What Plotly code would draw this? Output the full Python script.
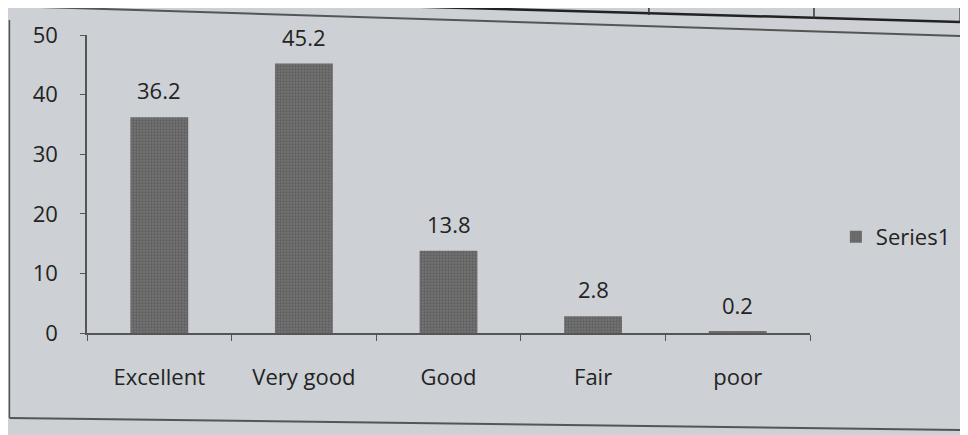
import plotly.graph_objects as go

categories = ["Excellent", "Very good", "Good", "Fair", "poor"]
values = [36.2, 45.2, 13.8, 2.8, 0.2]
value_labels = ["36.2", "45.2", "13.8", "2.8", "0.2"]
y_ticks = [0, 10, 20, 30, 40, 50]
series_name = "Series1"

OFF = 8  # browser body margin
W, H = 960, 427
L, T = 87 - OFF, 35 - OFF
pw, ph = 727, 298
R, B = W - L - pw, H - T - ph

def px(x):
    return (x - OFF - L) / pw

def py(y):
    return (T + ph - (y - OFF)) / ph

bg = "#cdd0d4"
ink = "#232323"
font = dict(family="Open Sans, Lato, sans-serif", size=22, color=ink)

fig = go.Figure()
fig.add_trace(go.Bar(
    x=categories, y=values, name=series_name,
    width=0.4,
    marker=dict(color="#666666", line=dict(width=0),
                pattern=dict(shape=".", fgcolor="#4a4a4a", bgcolor="#737373", size=3, solidity=0.45)),
    showlegend=True,
))

annotations = [
    dict(x=c, y=v, text=t, xref="x", yref="y", showarrow=False,
         yanchor="bottom", yshift=10, font=font)
    for c, v, t in zip(categories, values, value_labels)
]

def seg(x0, y0, x1, y1, color="#555", width=1.5):
    return dict(type="line", xref="paper", yref="paper", x0=px(x0), y0=py(y0),
                x1=px(x1), y1=py(y1), line=dict(color=color, width=width))

shapes = [
    seg(9, 20, 9, 418),
    seg(9, 418, 968, 430, width=2),
    seg(8, 6, 968, 36, width=2),
    seg(180, 0, 968, 22, color="#222", width=2.5),
    seg(434, 0, 434, 7, color="#333"),
    seg(652, 0, 652, 15, color="#333"),
    seg(818, 0, 818, 19, color="#333"),
    seg(965, 0, 965, 22, color="#333"),
]

fig.update_layout(
    width=W, height=H,
    margin=dict(l=L, r=R, t=T, b=B, pad=0),
    paper_bgcolor=bg, plot_bgcolor=bg,
    font=font,
    bargap=0.6,
    shapes=shapes,
    annotations=annotations,
    legend=dict(x=px(840), y=py(237), xanchor="left", yanchor="middle",
                bgcolor="rgba(0,0,0,0)", font=font, itemwidth=30,
                borderwidth=0, tracegroupgap=0),
    xaxis=dict(showline=True, linecolor="#555", linewidth=1.5, ticks="outside",
               tickson="boundaries", ticklen=6, tickcolor="#555", ticklabelstandoff=24,
               showgrid=False, zeroline=False, tickfont=font),
    yaxis=dict(range=[0, 50], tickvals=y_ticks, showline=True, linecolor="#555",
               linewidth=1.5, ticks="outside", ticklen=5, tickcolor="#555",
               ticklabelstandoff=18, showgrid=False, zeroline=False, tickfont=font),
)

fig.write_html("out.html")
